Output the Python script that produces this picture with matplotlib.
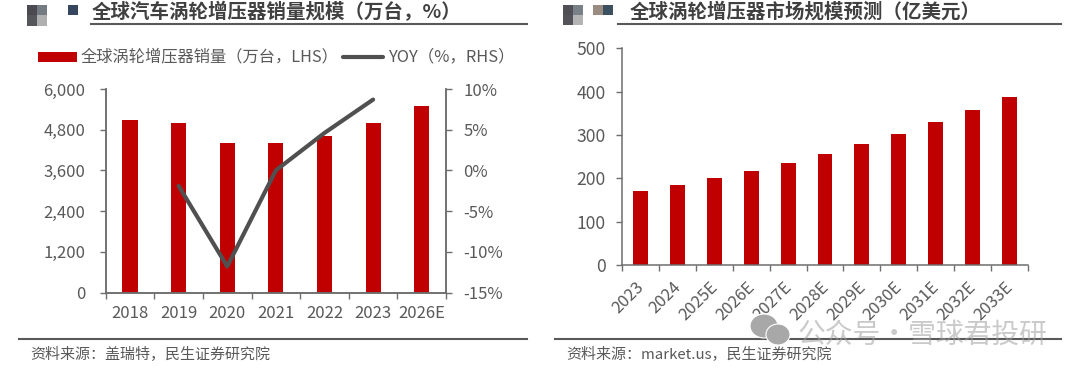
import matplotlib
matplotlib.use("Agg")
import matplotlib.pyplot as plt
from matplotlib.patches import Rectangle, Ellipse
from matplotlib.lines import Line2D

plt.rcParams['font.family'] = ['Noto Sans CJK SC', 'DejaVu Sans']

W, H = 1080, 371
years_l = ['2018', '2019', '2020', '2021', '2022', '2023', '2026E']
sales = [5100, 5000, 4400, 4400, 4600, 5000, 5500]
yoy_years = [1, 2, 3, 4, 5]
yoy = [-1.9, -11.8, 0.0, 4.6, 8.7]
l_ticks = [0, 1200, 2400, 3600, 4800, 6000]
r_ticks = [-15, -10, -5, 0, 5, 10]

years_r = ['2023', '2024', '2025E', '2026E', '2027E', '2028E', '2029E', '2030E', '2031E', '2032E', '2033E']
market = [170, 185, 200, 218, 236, 257, 280, 303, 329, 357, 388]
m_ticks = [0, 100, 200, 300, 400, 500]

title_l = '全球汽车涡轮增压器销量规模（万台，%）'
title_r = '全球涡轮增压器市场规模预测（亿美元）'
legend_bar = '全球涡轮增压器销量（万台，LHS）'
legend_line = 'YOY（%，RHS）'
source_l = '资料来源：盖瑞特，民生证券研究院'
source_r = '资料来源：market.us，民生证券研究院'
watermark = '公众号·雪球君投研'

RED = '#C00000'
GREY = '#505050'
AXC = '#6e6e6e'
TXT = '#595959'
FS = 12

fig = plt.figure(figsize=(W / 100, H / 100), dpi=100)


def axes_px(x0, x1, ytop, ybot):
    return fig.add_axes([x0 / W, 1 - ybot / H, (x1 - x0) / W, (ybot - ytop) / H])


def fig_rect(x, y, w, h, c):
    fig.add_artist(Rectangle((x / W, 1 - (y + h) / H), w / W, h / H, transform=fig.transFigure,
                             fc=c, ec='none'))


def fig_hline(x0, x1, y, c='#595959', lw=1.5):
    fig.add_artist(Line2D([x0 / W, x1 / W], [1 - y / H, 1 - y / H], transform=fig.transFigure, color=c, lw=lw))


def fig_text(x, y, s, **kw):
    fig.text(x / W, 1 - y / H, s, va='center', **kw)


# ---- left chart
ax = axes_px(105.7, 446, 89, 292.5)
ax.bar(range(len(years_l)), sales, width=0.31, color=RED, zorder=2)
ax.set_xlim(-0.5, len(years_l) - 0.5)
ax.set_ylim(0, 6000)
ax.set_yticks(l_ticks)
ax.set_yticklabels([f'{v:,}' for v in l_ticks])
ax.set_xticks([i - 0.5 for i in range(len(years_l) + 1)])
ax.set_xticklabels([])
ax.set_xticks(range(len(years_l)), minor=True)
ax.set_xticklabels(years_l, minor=True)
ax.tick_params(axis='x', which='minor', length=0, labelsize=FS, labelcolor=TXT, pad=9)
ax.tick_params(axis='x', which='major', length=4, width=1, color=AXC, direction='out')
ax.tick_params(axis='y', length=4, width=1, color=AXC, labelsize=FS, labelcolor=TXT, pad=10.5)
ax.spines['top'].set_visible(False)
for s in ['left', 'right', 'bottom']:
    ax.spines[s].set_color(AXC)
    ax.spines[s].set_linewidth(1.1)
ax.patch.set_alpha(0)

ax2 = ax.twinx()
ax2.plot(yoy_years, yoy, color=GREY, lw=3.0, zorder=5, solid_capstyle='round', solid_joinstyle='round')
ax2.set_ylim(-15, 10)
ax2.set_yticks(r_ticks)
ax2.set_yticklabels([f'{v}%' for v in r_ticks])
ax2.tick_params(axis='y', length=4, width=1, color=AXC, labelsize=FS, labelcolor=TXT, pad=8.5)
ax2.spines['top'].set_visible(False)
for s in ['left', 'right', 'bottom']:
    ax2.spines[s].set_color(AXC)
    ax2.spines[s].set_linewidth(1.1)

# legend
fig_rect(38, 51.7, 39, 9.8, RED)
fig_text(81, 56.5, legend_bar, fontsize=11.7, color=TXT)
fig.add_artist(Line2D([343 / W, 383 / W], [1 - 56.5 / H] * 2, transform=fig.transFigure, color=GREY, lw=3,
                      solid_capstyle='round'))
fig_text(388, 56.5, legend_line, fontsize=11.9, color=TXT)

# ---- right chart
bx = axes_px(622.3, 1027.7, 48.3, 265)
bx.bar(range(len(years_r)), market, width=0.405, color=RED, zorder=2)
bx.set_xlim(-0.5, len(years_r) - 0.5)
bx.set_ylim(0, 500)
bx.set_yticks(m_ticks)
bx.set_xticks([i - 0.5 for i in range(len(years_r) + 1)])
bx.set_xticklabels([])
for i, label in enumerate(years_r):
    bx.annotate(label, xy=(i, 0), xycoords=bx.get_xaxis_transform(), xytext=(-3.6, -10),
                textcoords='offset points', rotation=45, ha='right', va='top', rotation_mode='anchor',
                fontsize=FS, color=TXT, annotation_clip=False)
bx.tick_params(axis='x', which='major', length=4, width=1, color=AXC)
bx.tick_params(axis='y', length=4, width=1, color=AXC, labelsize=FS + 0.6, labelcolor=TXT, pad=8)
bx.spines['top'].set_visible(False)
bx.spines['right'].set_visible(False)
for s in ['left', 'bottom']:
    bx.spines[s].set_color(AXC)
    bx.spines[s].set_linewidth(1.1)

# ---- headers
fig_text(92, 12, title_l, fontsize=14, fontweight='bold', color='#404040')
fig_hline(90.7, 526.7, 24)
fig_text(630, 12, title_r, fontsize=14, fontweight='bold', color='#404040')
fig_hline(617.7, 1061, 24)

# decorative blocks
for x, y, w, h, c in [(27, 5, 10, 10, '#4a4a50'), (37, 5, 10, 10, '#757b82'), (27, 15, 10, 10.5, '#55565b'),
                      (37, 15, 10, 10.5, '#b0b0b0'), (67.7, 5, 10, 10, '#37465f'),
                      (562.7, 5, 10, 10, '#4f4f55'), (572.7, 5, 10, 10, '#7a8088'), (562.7, 15, 10, 10, '#55535a'),
                      (572.7, 15, 10, 10, '#b4b4b4'), (593.3, 5, 10, 10, '#9a8c80'), (603.3, 5, 10, 10, '#3c5060')]:
    fig_rect(x, y, w, h, c)

# ---- footers
fig_hline(19, 526.7, 339.3)
fig_text(30, 355, source_l, fontsize=10.8, color=TXT)
fig_hline(554.5, 1061, 339.3)
fig_text(566, 355, source_r, fontsize=10.8, color=TXT)

# ---- watermark
fig_text(798, 335, watermark, fontsize=20, color='#a0a0a0', alpha=0.55, zorder=10)
for cx, cy, rx, ry in [(764, 326, 14, 12), (778, 334.5, 12, 10.5)]:
    fig.add_artist(Ellipse((cx / W, 1 - cy / H), 2 * rx / W, 2 * ry / H, transform=fig.transFigure,
                           fc='#a8a8a8', ec='white', lw=0.8, zorder=10))

fig.savefig('out.png', dpi=100)
